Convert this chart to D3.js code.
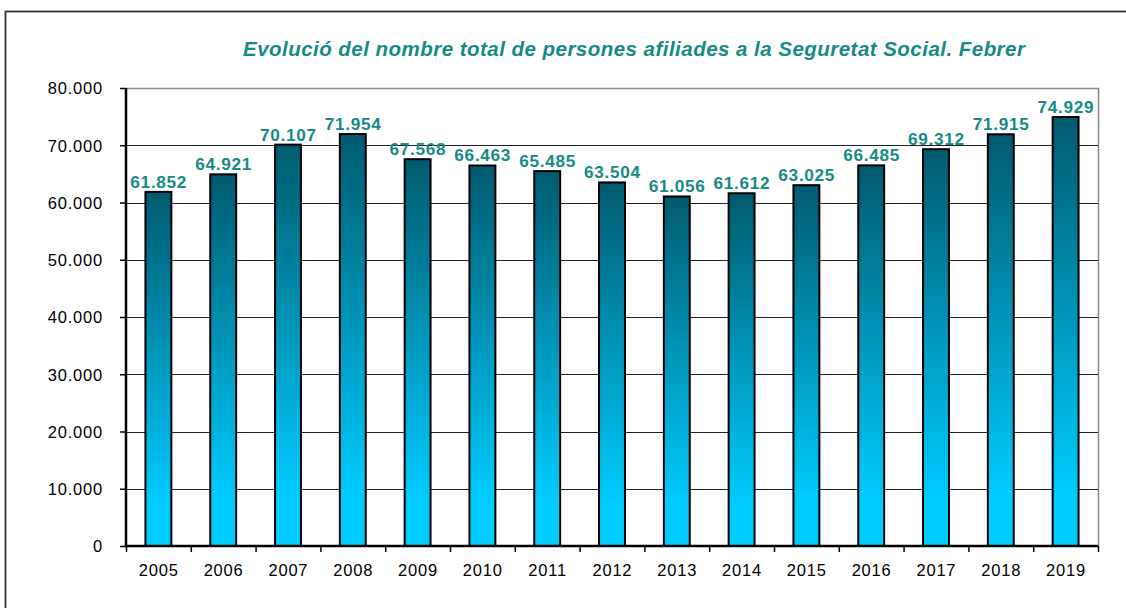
<!DOCTYPE html>
<html>
<head>
<meta charset="utf-8">
<script src="https://cdn.jsdelivr.net/npm/d3@7"></script>
<style>
  body { margin: 0; background: #fff; }
  svg text { font-family: "Liberation Sans", Arial, sans-serif; }
</style>
</head>
<body>
<div id="chart"></div>
<script>
// data
var years = ["2005", "2006", "2007", "2008", "2009", "2010", "2011", "2012", "2013", "2014", "2015", "2016", "2017", "2018", "2019"]
var afiliats = [61852, 64921, 70107, 71954, 67568, 66463, 65485, 63504, 61056, 61612, 63025, 66485, 69312, 71915, 74929]
var yTicks = [0, 10000, 20000, 30000, 40000, 50000, 60000, 70000, 80000]
var title = "Evolució del nombre total de persones afiliades a la Seguretat Social. Febrer"

var width = 1126,
    height = 608

var plot = {left: 126, right: 1098, top: 88, bottom: 546}

var locale = d3.formatLocale({decimal: ",", thousands: ".", grouping: [3], currency: ["", " €"]})
var fmt = locale.format(",d")

var svg = d3.select("#chart")
  .append("svg")
    .attr("width", width)
    .attr("height", height)

// gradient for the bars
var grad = svg.append("defs").append("linearGradient")
    .attr("id", "barGrad")
    .attr("x1", 0).attr("y1", 0)
    .attr("x2", 0).attr("y2", 1)
grad.append("stop").attr("offset", "0%").attr("stop-color", "#005a6e")
grad.append("stop").attr("offset", "88%").attr("stop-color", "#00ccff")
grad.append("stop").attr("offset", "100%").attr("stop-color", "#00ccff")

// outer frame (runs off the picture at right / bottom)
svg.append("rect")
    .attr("x", 5.5).attr("y", 11.5)
    .attr("width", 1140).attr("height", 620)
    .attr("fill", "none")
    .attr("stroke", "#333")
    .attr("stroke-width", 1.8)

var x = d3.scaleBand()
  .domain(years)
  .range([plot.left, plot.right])
  .paddingInner(0.6)
  .paddingOuter(0.3)

var xTicks = d3.scaleLinear()
  .domain([0, years.length])
  .range([plot.left, plot.right])

var y = d3.scaleLinear()
  .domain([0, 80000])
  .range([plot.bottom, plot.top])

// plot area border (top / right) in gray
svg.append("path")
    .attr("d", "M" + plot.left + "," + (plot.top + 0.5) + "H" + (plot.right + 0.5) + "V" + plot.bottom)
    .attr("fill", "none")
    .attr("stroke", "#888")
    .attr("stroke-width", 1.5)

// gridlines
svg.selectAll(".grid")
  .data(yTicks.filter(function(d) { return d > 0 && d < 80000 }))
  .enter()
  .append("line")
    .attr("x1", plot.left)
    .attr("x2", plot.right)
    .attr("y1", function(d) { return Math.round(y(d)) + 0.5 })
    .attr("y2", function(d) { return Math.round(y(d)) + 0.5 })
    .attr("stroke", "#222")
    .attr("stroke-width", 1)

// bars
svg.selectAll(".bar")
  .data(afiliats)
  .enter()
  .append("rect")
    .attr("x", function(d, i) { return x(years[i]) })
    .attr("y", function(d) { return y(d) })
    .attr("width", x.bandwidth())
    .attr("height", function(d) { return y(0) - y(d) })
    .attr("fill", "url(#barGrad)")
    .attr("stroke", "#000")
    .attr("stroke-width", 2)

// value labels (Excel draws them a bit wide, hence the letter-spacing)
svg.selectAll(".val")
  .data(afiliats)
  .enter()
  .append("text")
    .attr("x", function(d, i) { return x(years[i]) + x.bandwidth() / 2 + 0.35 })
    .attr("y", function(d) { return y(d) - 4 })
    .attr("text-anchor", "middle")
    .attr("font-size", "17.2px")
    .attr("font-weight", "bold")
    .attr("letter-spacing", "0.7px")
    .attr("fill", "#168a84")
    .text(function(d) { return fmt(d) })

// y axis
var yAxis = svg.append("g")
    .attr("transform", "translate(" + plot.left + ",0)")
    .call(d3.axisLeft(y).tickValues(yTicks).tickSize(6).tickPadding(17).tickFormat(fmt))
yAxis.select(".domain").attr("stroke-width", 2.5).attr("d", "M0," + plot.top + "V" + (plot.bottom + 1))
yAxis.selectAll(".tick line").attr("stroke-width", 1.5)
yAxis.selectAll("text")
    .attr("font-size", "16.5px")
    .attr("letter-spacing", "0.8px")
    .attr("dy", "0.36em")
    .attr("font-family", "Liberation Sans, Arial, sans-serif")
    .attr("fill", "#000")

// x axis
var xAxis = svg.append("g")
    .attr("transform", "translate(0," + plot.bottom + ")")
    .call(d3.axisBottom(xTicks).ticks(years.length).tickSize(6).tickFormat(""))
xAxis.select(".domain").attr("stroke-width", 2.5).attr("d", "M" + (plot.left - 1) + ",0H" + plot.right)
xAxis.selectAll(".tick line").attr("stroke-width", 1.5)

svg.selectAll(".xlab")
  .data(years)
  .enter()
  .append("text")
    .attr("x", function(d) { return x(d) + x.bandwidth() / 2 + 0.4 })
    .attr("y", plot.bottom + 30)
    .attr("text-anchor", "middle")
    .attr("font-size", "16.5px")
    .attr("letter-spacing", "0.8px")
    .attr("fill", "#000")
    .text(function(d) { return d })

// title
svg.append("text")
    .attr("x", 243)
    .attr("y", 56)
    .attr("font-size", "20.5px")
    .attr("font-weight", "bold")
    .attr("font-style", "italic")
    .attr("letter-spacing", "0.47px")
    .attr("fill", "#168a84")
    .text(title)
</script>
</body>
</html>
